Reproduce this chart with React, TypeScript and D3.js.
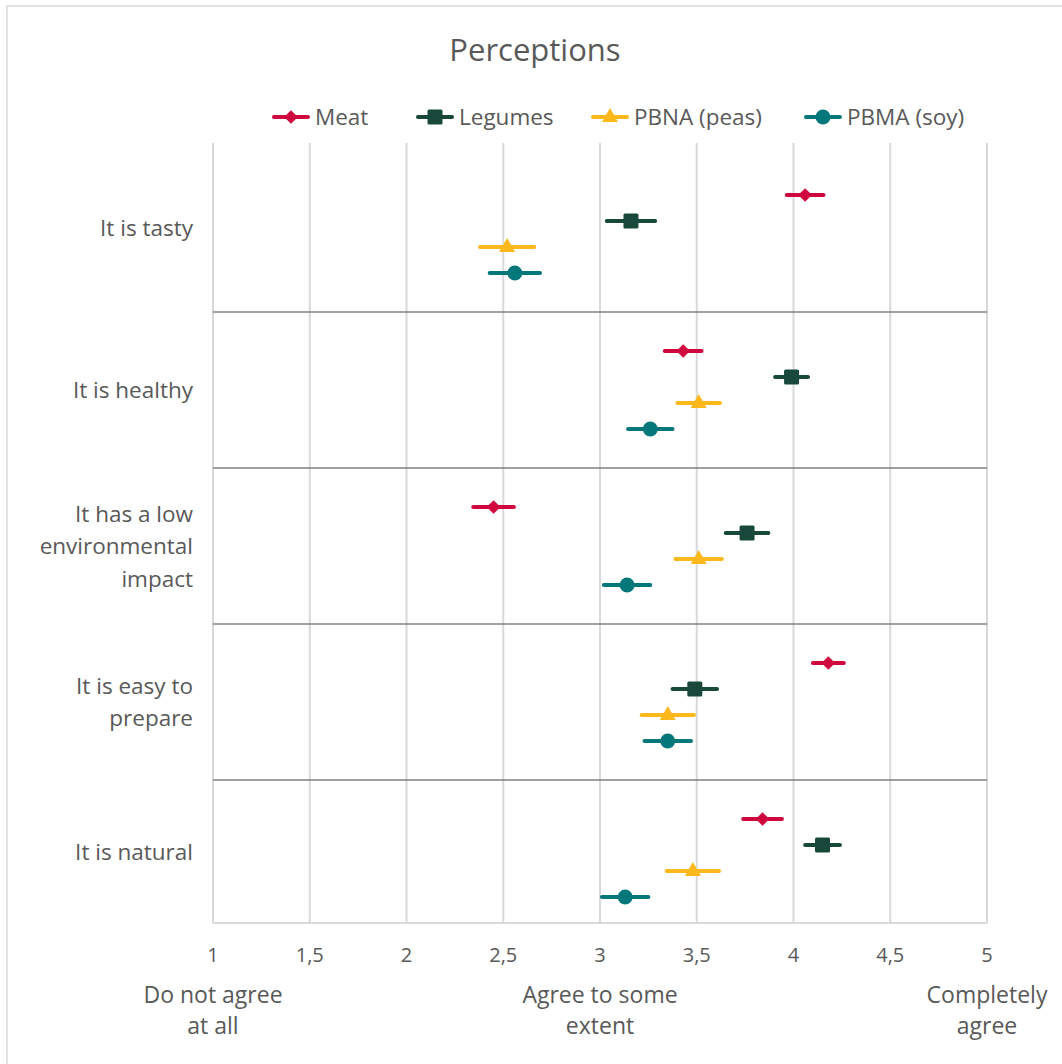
import React from 'react';
import * as d3 from 'd3';

// data
const categories = [
  ['It is tasty'],
  ['It is healthy'],
  ['It has a low', 'environmental', 'impact'],
  ['It is easy to', 'prepare'],
  ['It is natural'],
];
const seriesNames = ['Meat', 'Legumes', 'PBNA (peas)', 'PBMA (soy)'];
const seriesColors = ['#d0073f', '#17483a', '#fdb81c', '#04777b'];
const seriesShapes = ['diamond', 'square', 'triangle', 'circle'];

// mean per category, one array per series
const meatMean = [4.06, 3.43, 2.45, 4.18, 3.84];
const legumesMean = [3.16, 3.99, 3.76, 3.49, 4.15];
const peasMean = [2.52, 3.51, 3.51, 3.35, 3.48];
const soyMean = [2.56, 3.26, 3.14, 3.35, 3.13];

// error (half width)
const meatErr = [0.095, 0.095, 0.105, 0.08, 0.1];
const legumesErr = [0.125, 0.085, 0.11, 0.115, 0.09];
const peasErr = [0.14, 0.11, 0.12, 0.135, 0.135];
const soyErr = [0.13, 0.115, 0.12, 0.12, 0.12];

const xTicks = [1, 1.5, 2, 2.5, 3, 3.5, 4, 4.5, 5];
const scaleLabels = [
  { v: 1, lines: ['Do not agree', 'at all'] },
  { v: 3, lines: ['Agree to some', 'extent'] },
  { v: 5, lines: ['Completely', 'agree'] },
];

const means = [meatMean, legumesMean, peasMean, soyMean];
const errs = [meatErr, legumesErr, peasErr, soyErr];

const FONT = "'Open Sans', 'Segoe UI', sans-serif";
const TEXT = '#595959';

function Marker({ shape, color, cx, cy }) {
  if (shape === 'diamond') {
    const s = d3.symbol().type(d3.symbolDiamond2).size(120)();
    return <path d={s} transform={`translate(${cx},${cy})`} fill={color} />;
  }
  if (shape === 'square') {
    return <rect x={cx - 7.5} y={cy - 7.5} width={15} height={15} rx={1.5} fill={color} />;
  }
  if (shape === 'triangle') {
    return <path d={`M${cx},${cy - 9}L${cx + 8},${cy + 5}L${cx - 8},${cy + 5}Z`} fill={color} />;
  }
  return <circle cx={cx} cy={cy} r={7.5} fill={color} />;
}

export default function App() {
  const width = 1062;
  const height = 1064;

  const x = d3.scaleLinear().domain([1, 5]).range([213, 987]);
  const y = d3.scaleLinear().domain([0, 30]).range([143, 923]);

  const bounds = [0, 6.5, 12.5, 18.5, 24.5, 30];
  const separators = bounds.slice(1, -1);

  const points = categories.flatMap((c, g) =>
    seriesNames.map((name, s) => ({
      key: g + '-' + s,
      s,
      cy: y(g * 6 + 2 + s),
      mean: means[s][g],
      err: errs[s][g],
    }))
  );

  const legendX = [274, 418, 593, 806];

  return (
    <div style={{ position: 'absolute', left: 0, top: 0 }}>
      <svg width={width} height={height} style={{ display: 'block', fontFamily: FONT }}>
        <rect x={0} y={0} width={width} height={height} fill="#fff" />
        <rect x={7} y={6} width={1062} height={1070} fill="none" stroke="#d9d9d9" strokeWidth={1.5} />

        <text x={535} y={61} textAnchor="middle" fontSize={31} fill={TEXT}>Perceptions</text>

        {/* legend */}
        {seriesNames.map((name, i) => (
          <g key={name}>
            <line x1={legendX[i]} x2={legendX[i] + 34} y1={117} y2={117}
                  stroke={seriesColors[i]} strokeWidth={4} strokeLinecap="round" />
            <Marker shape={seriesShapes[i]} color={seriesColors[i]} cx={legendX[i] + 17} cy={117} />
            <text x={legendX[i] + 41} y={125} fontSize={22.5} fill={TEXT}>{name}</text>
          </g>
        ))}

        {/* grid */}
        {xTicks.map(t => (
          <line key={t} x1={x(t)} x2={x(t)} y1={y(0)} y2={y(30)} stroke="#d9d9d9" strokeWidth={2} />
        ))}
        <line x1={x(1)} x2={x(5)} y1={y(30)} y2={y(30)} stroke="#d9d9d9" strokeWidth={2} />
        {separators.map(s => (
          <line key={s} x1={x(1)} x2={x(5)} y1={y(s)} y2={y(s)} stroke="#808080" strokeWidth={1.5} />
        ))}

        {/* tick labels */}
        {xTicks.map(t => (
          <text key={t} x={x(t)} y={962} textAnchor="middle" fontSize={20} fill={TEXT}>
            {String(t).replace('.', ',')}
          </text>
        ))}
        {scaleLabels.map(l => (
          <text key={l.v} x={x(l.v)} y={1003} textAnchor="middle" fontSize={23} fill={TEXT}>
            {l.lines.map((ln, i) => (
              <tspan key={i} x={x(l.v)} dy={i === 0 ? 0 : 31}>{ln}</tspan>
            ))}
          </text>
        ))}

        {/* category labels */}
        {categories.map((lines, g) => {
          const mid = (y(bounds[g]) + y(bounds[g + 1])) / 2;
          const lh = 32.5;
          const y0 = mid - ((lines.length - 1) * lh) / 2 + 8;
          return (
            <text key={g} x={193} y={y0} textAnchor="end" fontSize={22.5} fill={TEXT}>
              {lines.map((ln, i) => (
                <tspan key={i} x={193} dy={i === 0 ? 0 : lh}>{ln}</tspan>
              ))}
            </text>
          );
        })}

        {/* error bars and markers */}
        {points.map(p => (
          <g key={p.key}>
            <line x1={x(p.mean - p.err)} x2={x(p.mean + p.err)} y1={p.cy} y2={p.cy}
                  stroke={seriesColors[p.s]} strokeWidth={4} strokeLinecap="round" />
            <Marker shape={seriesShapes[p.s]} color={seriesColors[p.s]} cx={x(p.mean)} cy={p.cy} />
          </g>
        ))}
      </svg>
    </div>
  );
}
